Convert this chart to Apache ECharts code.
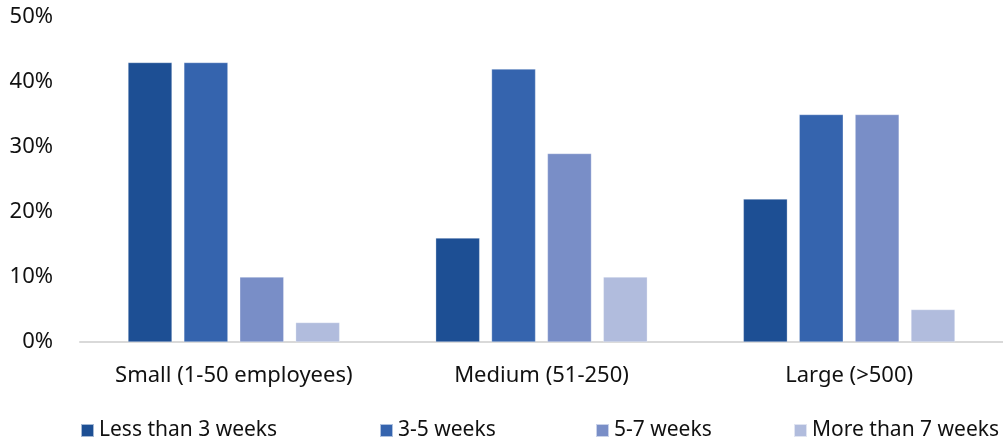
<!DOCTYPE html>
<html><head><meta charset="utf-8">
<script src="https://cdn.jsdelivr.net/npm/echarts@6/dist/echarts.min.js"></script>
<style>html,body{margin:0;padding:0;background:#fff}#c{width:1003px;height:439px}</style>
</head><body><div id="c"></div>
<script>
const categories = ['Small (1-50 employees)', 'Medium (51-250)', 'Large (>500)'];
const seriesNames = ['Less than 3 weeks', '3-5 weeks', '5-7 weeks', 'More than 7 weeks'];
const lessThan3 = [43, 16, 22];
const weeks3to5 = [43, 42, 35];
const weeks5to7 = [10, 29, 35];
const moreThan7 = [3, 10, 5];
const yTicks = [0, 10, 20, 30, 40, 50];

const colors = ['#1D4F94', '#3564AE', '#798EC7', '#B1BCDD'];
const values = [lessThan3, weeks3to5, weeks5to7, moreThan7];
const FONT = 'Noto Sans';
const legendLefts = [80, 379, 595, 793];

const chart = echarts.init(document.getElementById('c'));
chart.setOption({
  animation: false,
  textStyle: { fontFamily: FONT },
  grid: { left: 80, right: 0, top: 17, bottom: 97, containLabel: false },
  legend: seriesNames.map((n, i) => ({
    data: [n], left: legendLefts[i], top: 420, padding: 0, icon: 'rect', itemWidth: 13, itemHeight: 13, itemGap: 6,
    textStyle: { fontFamily: FONT, fontSize: 21, color: '#111', padding: [0, 0, 0, 0] }
  })),
  xAxis: {
    type: 'category', data: categories,
    axisLine: { lineStyle: { color: '#D9D9D9', width: 2 } },
    axisTick: { show: false },
    axisLabel: { interval: 0, fontSize: 22, color: '#111', margin: 23, fontFamily: FONT }
  },
  yAxis: {
    type: 'value', min: yTicks[0], max: yTicks[yTicks.length - 1], interval: 10,
    axisLine: { show: false }, axisTick: { show: false }, splitLine: { show: false },
    axisLabel: { formatter: '{value}%', fontSize: 22, color: '#111', margin: 27, fontFamily: FONT }
  },
  series: seriesNames.map((n, i) => ({
    name: n, type: 'bar', data: values[i], barWidth: 44, barGap: '27%',
    itemStyle: { color: colors[i], borderColor: 'rgba(255,255,255,0.6)', borderWidth: 0.5 }
  }))
});
</script></body></html>
